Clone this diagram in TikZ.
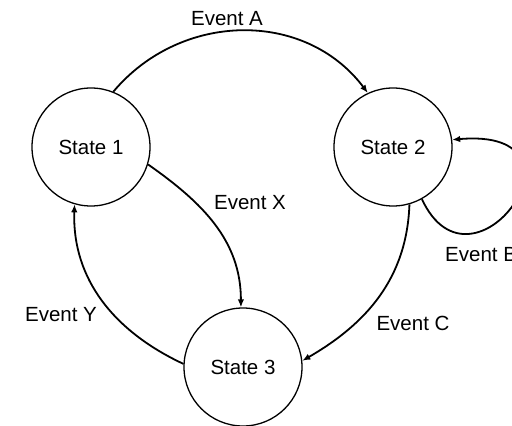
\documentclass[tikz,border=0pt]{standalone}
\usepackage{fontspec}
\setmainfont{Liberation Sans}
\usetikzlibrary{arrows.meta}
\begin{document}
\begin{tikzpicture}[x=1pt,y=1pt,
  txt/.style={font=\fontsize{20.5}{24}\selectfont},
  state/.style={circle, draw, line width=1.3pt, minimum size=118pt, inner sep=0pt, txt},
  lbl/.style={inner sep=0pt, txt},
  trans/.style={line width=1.8pt, -{Latex[length=8pt,width=6.5pt]}},
]
\useasboundingbox (0,0) rectangle (512,426);
\clip (0,0) rectangle (512,426);

% states
\node[state] (s1) at (91,279) {State 1};
\node[state] (s2) at (393,279) {State 2};
\node[state] (s3) at (243,59) {State 3};

% transitions
\draw[trans] (s1.68) to[out=50,in=127,looseness=1.05] (s2.115);
\draw[trans] (s2.-61) .. controls +(-65:120pt) and +(5:150pt) .. (s2.7);
\draw[trans] (s2.-74) to[out=-92,in=30] (s3.6);
\draw[trans] (s1.-17) to[out=-35,in=90] (s3.92);
\draw[trans] (s3.177) to[out=155,in=-92] (s1.254);

% labels
\node[lbl] (la) at (227,407) {Event A};
\node[lbl] (lx) at (250,223) {Event X};
\node[lbl] (ly) at (61,111) {Event Y};
\node[lbl] (lc) at (413,103) {Event C};
\node[lbl, anchor=west] (lb) at (445,171) {Event B};
\end{tikzpicture}
\end{document}
